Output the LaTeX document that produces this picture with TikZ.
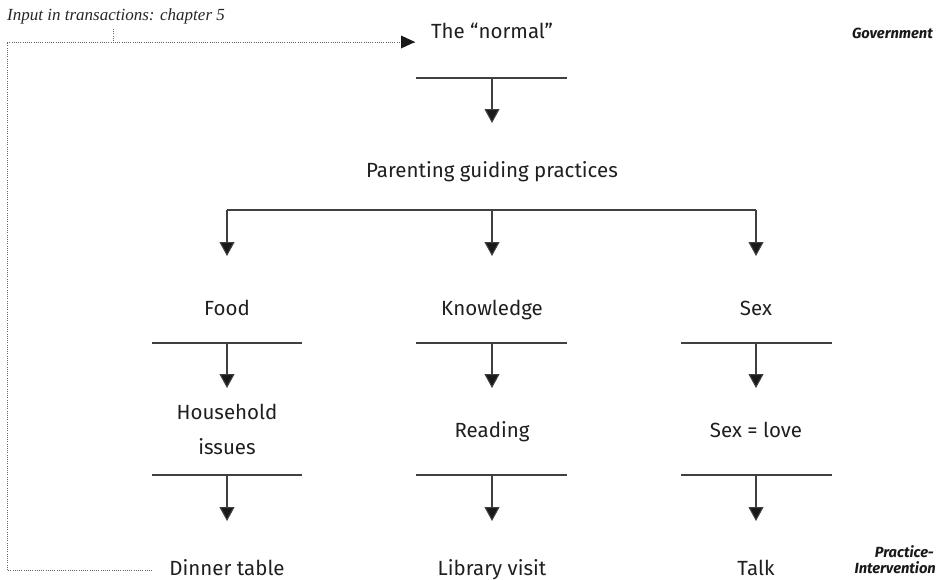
\documentclass[tikz,border=0pt]{standalone}
\usepackage{fontspec}
\setmainfont{Fira Sans}[RawFeature=-liga]
\newfontfamily\noteserif{Liberation Serif}
\usetikzlibrary{arrows.meta}
\begin{document}
\begin{tikzpicture}[x=1pt,y=-1pt,
  lbl/.style={anchor=base, font=\fontsize{20.5}{22}\selectfont, text=black!88, inner sep=0pt},
  side/.style={anchor=base east, font=\fontsize{14.7}{17}\selectfont\bfseries\itshape, text=black!90, inner sep=0pt, align=right},
  bar/.style={draw=black!75, line width=1.1pt},
  flow/.style={draw=black!75, line width=1.1pt, -{Triangle[width=15pt,length=14pt,fill=black!90]}},
  loop/.style={draw=black!60, line width=0.8pt, dash pattern=on 0.8pt off 1.4pt},
]
\useasboundingbox (0,0) rectangle (940,579);

% header note and side labels
\node[anchor=base west, inner sep=0pt, font=\fontsize{17}{19}\selectfont\noteserif\itshape, text=black!85] (note) at (7,20) {Input in transactions: chapter 5};
\node[side] (gov) at (933,38) {Government};
\node[side] (prac) at (934,557) {Practice-};
\node[side] (interv) at (936,573) {Intervention};

% top level
\node[lbl] (normal) at (492,38) {The “normal”};
\draw[bar] (416,78) coordinate (b0l) -- (567,78) coordinate (b0r);
\coordinate (b0) at (492,78);
\coordinate (t0) at (492,123);
\draw[flow] (b0) -- (t0);
\node[lbl] (guide) at (492,177) {Parenting guiding practices};

% branching into three domains
\draw[bar] (227,210) coordinate (brl) -- (756,210) coordinate (brr);
\coordinate (brm) at (492,210);
\coordinate (t1l) at (227,256);
\coordinate (t1m) at (492,256);
\coordinate (t1r) at (756,256);
\draw[flow] (brl) -- (t1l);
\draw[flow] (brm) -- (t1m);
\draw[flow] (brr) -- (t1r);

\node[lbl] (food) at (227,315) {Food};
\node[lbl] (know) at (492,315) {Knowledge};
\node[lbl] (sex) at (756,315) {Sex};

% second level bars and arrows
\foreach \c/\l/\r/\n in {227/152/302/a, 492/416/567/b, 756/681/832/c}{
  \draw[bar] (\l,343) -- (\r,343);
  \coordinate (m\n) at (\c,343);
  \coordinate (mt\n) at (\c,388);
  \draw[flow] (m\n) -- (mt\n);
}

\node[lbl, align=center, font=\fontsize{20.5}{35}\selectfont] (house) at (227,454) {Household\\issues};
\node[lbl] (read) at (492,437) {Reading};
\node[lbl] (love) at (756,437) {Sex = love};

% third level bars and arrows
\foreach \c/\l/\r/\n in {227/152/302/a, 492/416/567/b, 756/681/832/c}{
  \draw[bar] (\l,475) -- (\r,475);
  \coordinate (n\n) at (\c,475);
  \coordinate (nt\n) at (\c,521);
  \draw[flow] (n\n) -- (nt\n);
}

\node[lbl] (dinner) at (227,575) {Dinner table};
\node[lbl] (library) at (492,575) {Library visit};
\node[lbl] (talk) at (756,575) {Talk};

% dotted feedback loop from practice back to the norm
\coordinate (ls) at (152,570);
\coordinate (lc1) at (7,570);
\coordinate (lc2) at (7,42);
\coordinate (le) at (415,42);
\draw[loop] (ls) -- (lc1) -- (lc2) -- (le);
\fill[black!90] (le) -- (401,35.5) -- (401,48.5) -- cycle;
\coordinate (tk1) at (113,29);
\coordinate (tk2) at (113,42);
\draw[loop] (tk1) -- (tk2);
\end{tikzpicture}
\end{document}
